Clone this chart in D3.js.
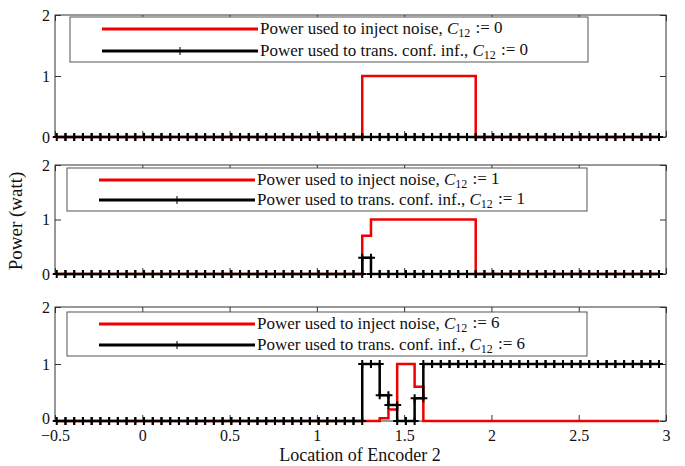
<!DOCTYPE html>
<html>
<head>
<meta charset="utf-8">
<script src="https://cdnjs.cloudflare.com/ajax/libs/d3/7.8.5/d3.min.js"></script>
<style>
  body { margin: 0; background: #fff; }
  svg text { font-family: "Liberation Serif", "Times New Roman", Tinos, "Nimbus Roman", "DejaVu Serif", serif; fill: #111; }
</style>
</head>
<body>
<div id="chart"></div>
<script>
// sample locations of encoder 2 (stairs vertices)
const locations = [
  -0.49, -0.44, -0.39, -0.34, -0.29, -0.24, -0.19, -0.14, -0.09, -0.04,
   0.01,  0.06,  0.11,  0.16,  0.21,  0.26,  0.31,  0.36,  0.41,  0.46,
   0.51,  0.56,  0.61,  0.66,  0.71,  0.76,  0.81,  0.86,  0.91,  0.96,
   1.01,  1.06,  1.11,  1.16,  1.21,  1.26,  1.31,  1.36,  1.41,  1.46,
   1.51,  1.56,  1.61,  1.66,  1.71,  1.76,  1.81,  1.86,  1.91,  1.96,
   2.01,  2.06,  2.11,  2.16,  2.21,  2.26,  2.31,  2.36,  2.41,  2.46,
   2.51,  2.56,  2.61,  2.66,  2.71,  2.76,  2.81,  2.86,  2.91,  2.96
];

// C12 := 0
const noiseC0 = [
  0, 0, 0, 0, 0, 0, 0, 0, 0, 0,
  0, 0, 0, 0, 0, 0, 0, 0, 0, 0,
  0, 0, 0, 0, 0, 0, 0, 0, 0, 0,
  0, 0, 0, 0, 0, 1, 1, 1, 1, 1,
  1, 1, 1, 1, 1, 1, 1, 1, 0, 0,
  0, 0, 0, 0, 0, 0, 0, 0, 0, 0,
  0, 0, 0, 0, 0, 0, 0, 0, 0, 0
];
const confC0 = [
  0, 0, 0, 0, 0, 0, 0, 0, 0, 0,
  0, 0, 0, 0, 0, 0, 0, 0, 0, 0,
  0, 0, 0, 0, 0, 0, 0, 0, 0, 0,
  0, 0, 0, 0, 0, 0, 0, 0, 0, 0,
  0, 0, 0, 0, 0, 0, 0, 0, 0, 0,
  0, 0, 0, 0, 0, 0, 0, 0, 0, 0,
  0, 0, 0, 0, 0, 0, 0, 0, 0, 0
];

// C12 := 1
const noiseC1 = [
  0, 0, 0, 0, 0, 0, 0, 0, 0, 0,
  0, 0, 0, 0, 0, 0, 0, 0, 0, 0,
  0, 0, 0, 0, 0, 0, 0, 0, 0, 0,
  0, 0, 0, 0, 0, 0.7, 1, 1, 1, 1,
  1, 1, 1, 1, 1, 1, 1, 1, 0, 0,
  0, 0, 0, 0, 0, 0, 0, 0, 0, 0,
  0, 0, 0, 0, 0, 0, 0, 0, 0, 0
];
const confC1 = [
  0, 0, 0, 0, 0, 0, 0, 0, 0, 0,
  0, 0, 0, 0, 0, 0, 0, 0, 0, 0,
  0, 0, 0, 0, 0, 0, 0, 0, 0, 0,
  0, 0, 0, 0, 0, 0.3, 0, 0, 0, 0,
  0, 0, 0, 0, 0, 0, 0, 0, 0, 0,
  0, 0, 0, 0, 0, 0, 0, 0, 0, 0,
  0, 0, 0, 0, 0, 0, 0, 0, 0, 0
];

// C12 := 6
const noiseC6 = [
  0, 0, 0, 0, 0, 0, 0, 0, 0, 0,
  0, 0, 0, 0, 0, 0, 0, 0, 0, 0,
  0, 0, 0, 0, 0, 0, 0, 0, 0, 0,
  0, 0, 0, 0, 0, 0, 0, 0.05, 0.2, 1,
  1, 0.6, 0, 0, 0, 0, 0, 0, 0, 0,
  0, 0, 0, 0, 0, 0, 0, 0, 0, 0,
  0, 0, 0, 0, 0, 0, 0, 0, 0, 0
];
const confC6 = [
  0, 0, 0, 0, 0, 0, 0, 0, 0, 0,
  0, 0, 0, 0, 0, 0, 0, 0, 0, 0,
  0, 0, 0, 0, 0, 0, 0, 0, 0, 0,
  0, 0, 0, 0, 0, 1, 1, 0.45, 0.28, 0,
  0, 0.4, 1, 1, 1, 1, 1, 1, 1, 1,
  1, 1, 1, 1, 1, 1, 1, 1, 1, 1,
  1, 1, 1, 1, 1, 1, 1, 1, 1, 1
];

const c12Values = ["0", "1", "6"];
const xTicks = [-0.5, 0, 0.5, 1, 1.5, 2, 2.5, 3];
const yTicks = [0, 1, 2];
const legendLabels = ["Power used to inject noise, ", "Power used to trans. conf. inf., "];

const W = 685, H = 466;
const serif = "'Liberation Serif', 'Times New Roman', Tinos, 'Nimbus Roman', 'DejaVu Serif', serif";

const svg = d3.select("#chart").append("svg")
    .attr("width", W)
    .attr("height", H)
    .attr("font-family", serif);

const x = d3.scaleLinear().domain([-0.5, 3]).range([55, 666]);

const panels = [
    { top: 15, bottom: 137, noise: noiseC0, conf: confC0, c12: c12Values[0], leg: [70, 17, 588, 62] },
    { top: 165, bottom: 274, noise: noiseC1, conf: confC1, c12: c12Values[1], leg: [67, 168, 587, 211] },
    { top: 307, bottom: 421, noise: noiseC6, conf: confC6, c12: c12Values[2], leg: [67, 312, 587, 356] }
];

// vertices of a stairs plot (markers sit on every corner)
function stairVertices(xs, ys) {
    const pts = [];
    xs.forEach((xv, i) => {
        if (i > 0) pts.push([xv, ys[i - 1]]);
        pts.push([xv, ys[i]]);
    });
    return pts;
}

function plusPath(s) {
    return `M${-s},0H${s}M0,${-s}V${s}`;
}

panels.forEach((p, idx) => {
    const y = d3.scaleLinear().domain([0, 2]).range([p.bottom, p.top]);
    const g = svg.append("g");
    const last = idx === panels.length - 1;

    // axes (inward ticks, box on)
    const left = g.append("g").attr("transform", `translate(${x.range()[0]},0)`)
        .call(d3.axisLeft(y).tickValues(yTicks).tickSize(-6).tickPadding(5).tickFormat(d3.format("d")));
    g.append("g").attr("transform", `translate(${x.range()[1]},0)`)
        .call(d3.axisRight(y).tickValues(yTicks).tickSize(-6).tickFormat(""));
    g.append("g").attr("transform", `translate(0,${p.top})`)
        .call(d3.axisTop(x).tickValues(xTicks).tickSize(-6).tickFormat(""));
    const bottomAxis = g.append("g").attr("transform", `translate(0,${p.bottom})`)
        .call(d3.axisBottom(x).tickValues(xTicks).tickSize(-6).tickPadding(9)
            .tickFormat(last ? (d => d3.format("")(d).replace("-", "\u2013")) : ""));
    g.selectAll(".domain").remove();
    g.selectAll(".tick line").attr("stroke", "#333");
    g.selectAll("g").attr("font-family", serif);
    g.selectAll(".tick text")
        .style("font-size", "16px")
        .attr("fill", "#111");
    // lift the bottom "0" of the last panel a little so it clears "-0.5"
    left.selectAll(".tick text").attr("dy", d => (last && d === 0) ? "0.15em" : "0.32em");
    bottomAxis.selectAll(".tick text").attr("dy", "0.71em");

    g.append("rect")
        .attr("x", x.range()[0]).attr("y", p.top)
        .attr("width", x.range()[1] - x.range()[0])
        .attr("height", p.bottom - p.top)
        .attr("fill", "none")
        .attr("stroke", "#333")
        .attr("stroke-width", 1);

    const line = d3.line()
        .x(d => x(d[0]))
        .y(d => y(d[1]))
        .curve(d3.curveStepAfter);

    const noisePts = locations.map((xv, i) => [xv, p.noise[i]]);
    const confPts = locations.map((xv, i) => [xv, p.conf[i]]);

    g.append("path")
        .attr("d", line(noisePts))
        .attr("fill", "none")
        .attr("stroke", "#f00000")
        .attr("stroke-width", 2.5);

    g.append("path")
        .attr("d", line(confPts))
        .attr("fill", "none")
        .attr("stroke", "#000")
        .attr("stroke-width", 2.5);

    g.selectAll(".mk")
        .data(stairVertices(locations, p.conf))
        .join("path")
        .attr("class", "mk")
        .attr("transform", d => `translate(${x(d[0])},${y(d[1])})`)
        .attr("d", plusPath(4))
        .attr("stroke", "#000")
        .attr("stroke-width", 2);

    // legend
    const [lx0, ly0, lx1, ly1] = p.leg;
    const leg = g.append("g");
    leg.append("rect")
        .attr("x", lx0).attr("y", ly0)
        .attr("width", lx1 - lx0).attr("height", ly1 - ly0)
        .attr("fill", "#fff")
        .attr("stroke", "#555")
        .attr("stroke-width", 1);
    const rowY = [ly0 + 12, ly1 - 11];
    const colors = ["#f00000", "#000"];
    rowY.forEach((ry, j) => {
        leg.append("line")
            .attr("x1", lx0 + 32).attr("x2", lx0 + 188)
            .attr("y1", ry).attr("y2", ry)
            .attr("stroke", colors[j])
            .attr("stroke-width", 3);
        if (j === 1) {
            leg.append("path")
                .attr("transform", `translate(${lx0 + 110},${ry})`)
                .attr("d", plusPath(4))
                .attr("stroke", "#000")
                .attr("stroke-width", 1);
        }
        const t = leg.append("text")
            .attr("x", lx0 + 190)
            .attr("y", ry)
            .attr("dy", "0.3em")
            .style("font-size", "17px");
        t.append("tspan").text(legendLabels[j]);
        t.append("tspan").style("font-style", "italic").text("C");
        t.append("tspan").attr("dy", "0.25em").style("font-size", "12px").text("12");
        t.append("tspan").attr("dy", "-0.25em").attr("dx", "1").text(" := " + p.c12);
    });
});

svg.append("text")
    .attr("transform", "translate(22,221) rotate(-90)")
    .attr("text-anchor", "middle")
    .style("font-size", "19px")
    .text("Power (watt)");

svg.append("text")
    .attr("x", 360)
    .attr("y", 461)
    .attr("text-anchor", "middle")
    .style("font-size", "18px")
    .text("Location of Encoder 2");
</script>
</body>
</html>
